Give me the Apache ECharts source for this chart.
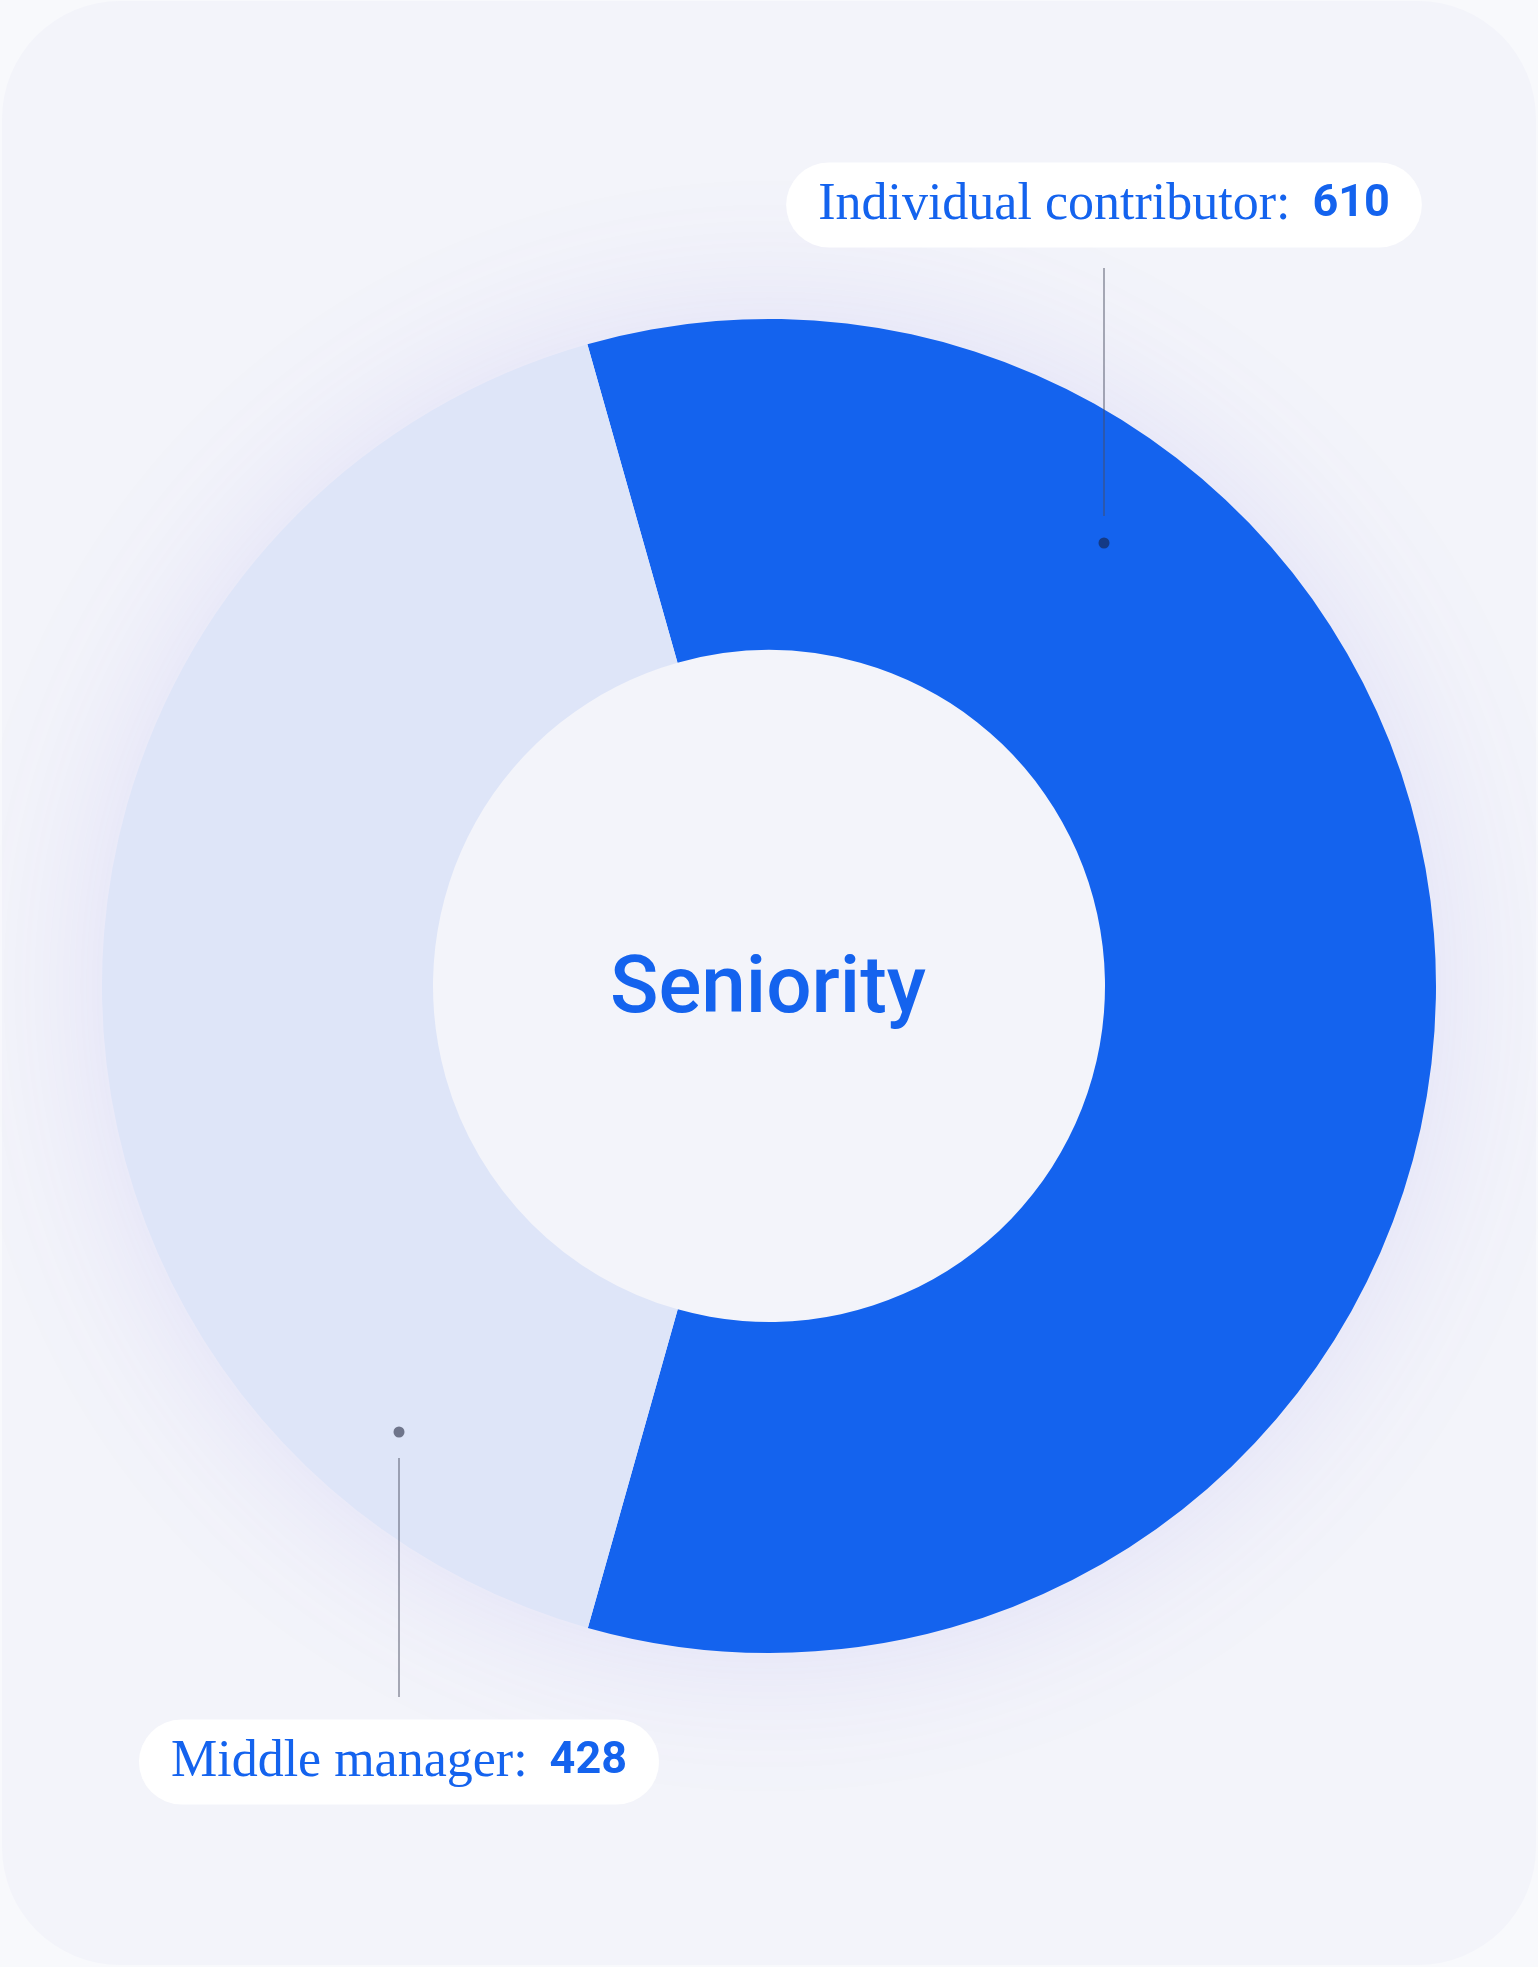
<!DOCTYPE html>
<html>
<head>
<meta charset="utf-8">
<script src="https://cdn.jsdelivr.net/npm/echarts@6/dist/echarts.min.js"></script>
<style>
  html, body { margin: 0; padding: 0; background: #f8f9fc; }
  #chart { width: 1538px; height: 1967px; }
</style>
</head>
<body>
<div id="chart"></div>
<script>
// data
const categories = ['Individual contributor', 'Middle manager']
const values = [610, 428]
const colors = ['#1463ee', '#dee5f8']
const centerTitle = 'Seniority'

// label pill centres and leader lines (layout only)
const labelPos = [[1104, 205], [399, 1762]]
const leaders = [
  { x: 1104, top: 268, bottom: 516, dot: 543 },
  { x: 399, top: 1458, bottom: 1697, dot: 1432 }
]

const chart = echarts.init(document.getElementById('chart'))

let graphics = [
  {
    type: 'rect', z: -10,
    shape: { x: 2, y: 1, width: 1534, height: 1964, r: 118 },
    style: { fill: '#f3f4fa' }
  },
  {
    // soft glow behind the ring
    type: 'circle', z: -5,
    shape: { cx: 769, cy: 986, r: 660 },
    style: {
      fill: '#f3f4fa',
      shadowBlur: 160,
      shadowColor: 'rgba(105,95,225,0.15)'
    }
  },
  {
    type: 'text', z: 10,
    style: {
      x: 768, y: 992, text: centerTitle,
      fontFamily: 'Roboto', fontWeight: 500, fontSize: 80,
      fill: '#1463ee',
      align: 'center', verticalAlign: 'middle'
    }
  }
]
leaders.forEach(l => {
  graphics.push({
    type: 'line', z: 10,
    shape: { x1: l.x, y1: l.top, x2: l.x, y2: l.bottom },
    style: { stroke: 'rgba(70,75,95,0.45)', lineWidth: 2 }
  })
  graphics.push({
    type: 'circle', z: 10,
    shape: { cx: l.x, cy: l.dot, r: 5.5 },
    style: { fill: 'rgba(20,25,50,0.55)' }
  })
})

chart.setOption({
  animation: false,
  graphic: graphics,
  series: [{
    type: 'pie',
    center: [769, 986],
    radius: [336, 667],
    startAngle: 105.8,
    clockwise: true,
    silent: true,
    data: categories.map((c, i) => ({
      name: c,
      value: values[i],
      itemStyle: { color: colors[i] }
    })),
    labelLine: { show: false },
    label: {
      show: true,
      position: 'inside',
      overflow: 'none',
      formatter: '{n|{b}:}{v|{c}}',
      backgroundColor: '#ffffff',
      borderRadius: 43,
      padding: [0, 32, 0, 32],
      rich: {
        n: {
          fontFamily: 'Liberation Serif',
          fontSize: 52,
          color: '#1463ee',
          lineHeight: 85
        },
        v: {
          fontFamily: 'Roboto',
          fontWeight: 700,
          fontSize: 45,
          color: '#1463ee',
          lineHeight: 85,
          padding: [0, 0, 0, 22]
        }
      }
    },
    labelLayout: function (params) {
      const p = labelPos[params.dataIndex]
      return { x: p[0], y: p[1], align: 'center', verticalAlign: 'middle' }
    }
  }]
})
</script>
</body>
</html>
